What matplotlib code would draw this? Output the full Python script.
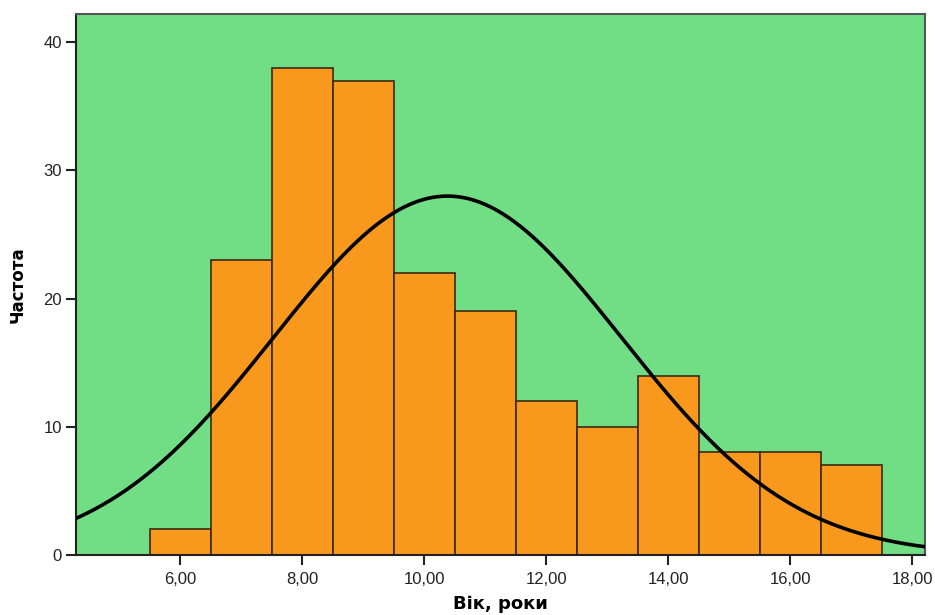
import numpy as np
import matplotlib
matplotlib.use("Agg")
import matplotlib.pyplot as plt

# Data
bin_edges = [5.5, 6.5, 7.5, 8.5, 9.5, 10.5, 11.5, 12.5, 13.5, 14.5, 15.5, 16.5, 17.5]
counts = [2, 23, 38, 37, 22, 19, 12, 10, 14, 8, 8, 7]
x_ticks = [6, 8, 10, 12, 14, 16, 18]
x_tick_labels = ["6,00", "8,00", "10,00", "12,00", "14,00", "16,00", "18,00"]
y_ticks = [0, 10, 20, 30, 40]
fit_mean = 10.38
fit_sd = 2.85

plt.rcParams['font.family'] = ['Liberation Sans', 'DejaVu Sans']

fig = plt.figure(figsize=(9.35, 6.15), dpi=100)
ax = fig.add_axes([76/935, 60/615, (925-76)/935, (555-14)/615])
ax.set_facecolor('#71DD85')

lefts = np.array(bin_edges[:-1])
widths = np.diff(bin_edges)
ax.bar(lefts, counts, width=widths, align='edge', color='#F8991E',
       edgecolor='#3a2a10', linewidth=1.2, zorder=2)

n = sum(counts)
bw = widths[0]
xs = np.linspace(4.0, 18.5, 600)
ys = n * bw / (fit_sd * np.sqrt(2 * np.pi)) * np.exp(-0.5 * ((xs - fit_mean) / fit_sd) ** 2)
ax.plot(xs, ys, color='black', linewidth=2.6, zorder=3)

ax.set_xlim(4.29, 18.21)
ax.set_ylim(0, 42.2)
ax.set_xticks(x_ticks)
ax.set_xticklabels(x_tick_labels)
ax.set_yticks(y_ticks)
ax.tick_params(axis='both', direction='out', length=7, width=1.5, labelsize=12,
               colors='#222222')
ax.tick_params(axis='x', pad=5)
ax.tick_params(axis='y', pad=3)

for side in ['left', 'bottom']:
    ax.spines[side].set_linewidth(1.5)
    ax.spines[side].set_color('#222222')
for side in ['top', 'right']:
    ax.spines[side].set_linewidth(1.5)
    ax.spines[side].set_color('#555555')

ax.set_xlabel('Вік, роки', fontsize=13, fontweight='bold', labelpad=6,
              family='DejaVu Sans')
ax.set_ylabel('Частота', fontsize=12, fontweight='bold', labelpad=12,
              family='DejaVu Sans')

fig.savefig('out.png', dpi=100)
